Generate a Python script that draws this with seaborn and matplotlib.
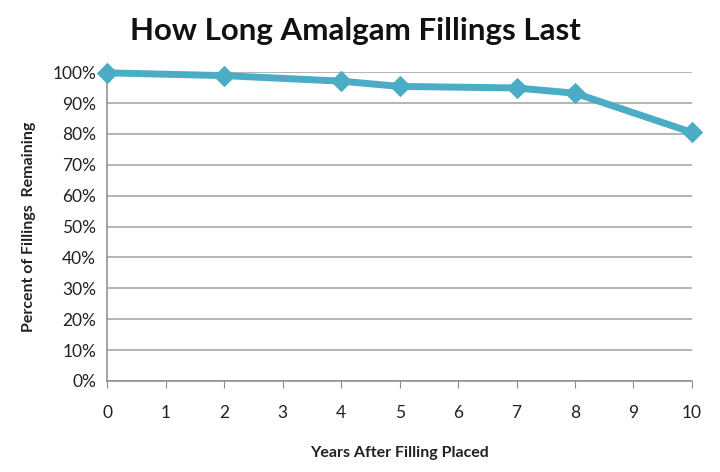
import numpy as np
import matplotlib
matplotlib.use("Agg")
import matplotlib.pyplot as plt
import seaborn as sns
import pandas as pd
from matplotlib.ticker import PercentFormatter

# Data
years = [0, 2, 4, 5, 7, 8, 10]
remaining = [99.8, 98.9, 97.1, 95.4, 94.9, 93.2, 80.5]

df = pd.DataFrame({"Years": years, "Remaining": remaining})

sns.set_style("white")
plt.rcParams['font.family'] = ['Lato', 'DejaVu Sans']

fig = plt.figure(figsize=(7.2, 4.72), dpi=100)
ax = fig.add_axes([0.149, 0.193, 0.812, 0.654])

sns.lineplot(data=df, x="Years", y="Remaining", ax=ax, color="#4BACC6",
             linewidth=5, marker="D", markersize=10, markeredgecolor="#4BACC6",
             zorder=3, clip_on=False)

ax.set_xlim(0, 10)
ax.set_ylim(0, 100)
ax.set_xticks(range(0, 11))
ax.set_yticks(range(0, 101, 10))
ax.yaxis.set_major_formatter(PercentFormatter(decimals=0))
ax.yaxis.grid(True, color="#a0a0a0", linewidth=1.1)
ax.xaxis.grid(False)

for side in ["top", "right"]:
    ax.spines[side].set_visible(False)
for side in ["left", "bottom"]:
    ax.spines[side].set_color("#8c8c8c")
    ax.spines[side].set_linewidth(1.1)

ax.tick_params(axis="x", direction="out", length=5, color="#8c8c8c",
               bottom=True, labelsize=12.5, pad=12, labelcolor="#222222")
ax.tick_params(axis="y", length=0, labelsize=12.5, pad=8, labelcolor="#222222")

ax.set_xlabel("Years After Filling Placed", fontsize=11.5, fontweight="bold",
              labelpad=18, color="#222222")
ax.set_ylabel("Percent of Fillings  Remaining", fontsize=11.5, fontweight="bold",
              labelpad=12, color="#222222")

fig.suptitle("How Long Amalgam Fillings Last", x=0.493, y=0.965,
             fontsize=22.5, fontweight="bold", color="#111111")

fig.savefig("out.png", dpi=100)
